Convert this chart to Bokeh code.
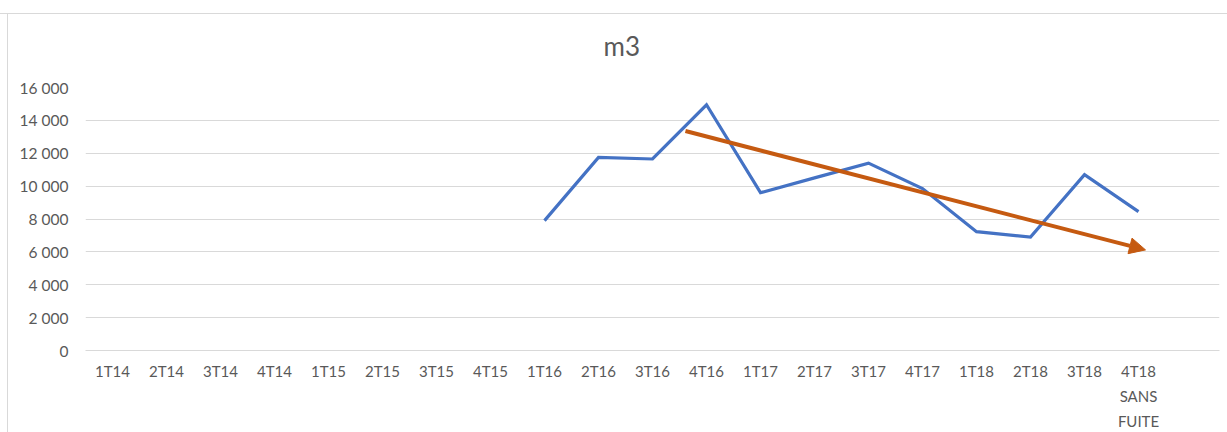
from bokeh.plotting import figure
from bokeh.models import Range1d, FixedTicker, Arrow, NormalHead
from bokeh.embed import file_html
from bokeh.resources import INLINE

# ---- data ----
chart_title = "m3"
categories = ["1T14", "2T14", "3T14", "4T14", "1T15", "2T15", "3T15", "4T15",
              "1T16", "2T16", "3T16", "4T16", "1T17", "2T17", "3T17", "4T17",
              "1T18", "2T18", "3T18", "4T18\nSANS\nFUITE"]
m3_values = [None, None, None, None, None, None, None, None,
             7900, 11750, 11650, 14950, 9600, 10500, 11400, 9850,
             7230, 6900, 10700, 8450]
y_ticks = [0, 2000, 4000, 6000, 8000, 10000, 12000, 14000, 16000]
y_tick_labels = ["0", "2 000", "4 000", "6 000", "8 000", "10 000", "12 000", "14 000", "16 000"]
# trend arrow: (category, offset within category, value)
trend_start = ("4T16", -0.39, 13350)
trend_end = ("4T18\nSANS\nFUITE", 0.13, 6120)

n_slots = len(categories) + 1  # an empty slot after the last category
xs = [i + 0.5 for i in range(len(categories))]
ys = [float("nan") if v is None else v for v in m3_values]

TEXT = "#595959"
GRID = "#d9d9d9"
FONT = "Lato"

p = figure(width=1227, height=432, output_backend="svg", toolbar_location=None,
           x_range=Range1d(0, n_slots), y_range=Range1d(0, 16000),
           min_border_left=85, min_border_right=8, min_border_top=87, min_border_bottom=81,
           title=chart_title)
# chart-area frame lines (top and left) drawn behind a transparent canvas border
p.styles = {
    "background": ("linear-gradient(#d9d9d9, #d9d9d9) 0px 13px / 100% 1px no-repeat, "
                   "linear-gradient(#d9d9d9, #d9d9d9) 7px 13px / 1px 100% no-repeat, white"),
}
p.outline_line_color = None
p.background_fill_color = "white"
p.border_fill_alpha = 0

p.title.text_font = FONT
p.title.text_font_size = "26px"
p.title.text_font_style = "normal"
p.title.text_color = TEXT
p.title.align = "left"
p.title.offset = 518
p.title.standoff = 52

# x axis
p.xaxis.ticker = FixedTicker(ticks=xs)
p.xaxis.major_label_overrides = {x: c for x, c in zip(xs, categories)}
p.xaxis.major_tick_line_color = None
p.xaxis.minor_tick_line_color = None
p.xaxis.axis_line_color = GRID
p.xaxis.major_label_text_font = FONT
p.xaxis.major_label_text_font_size = "15px"
p.xaxis.major_label_text_color = TEXT
p.xaxis.major_label_text_line_height = 1.4
p.xaxis.major_label_standoff = 5
p.xgrid.grid_line_color = None

# y axis
p.yaxis.ticker = FixedTicker(ticks=y_ticks)
p.yaxis.major_label_overrides = {t: l for t, l in zip(y_ticks, y_tick_labels)}
p.yaxis.major_tick_line_color = None
p.yaxis.minor_tick_line_color = None
p.yaxis.axis_line_color = None
p.yaxis.major_label_text_font = FONT
p.yaxis.major_label_text_font_size = "15.5px"
p.yaxis.major_label_text_color = TEXT
p.yaxis.major_label_standoff = 11
p.ygrid.grid_line_color = GRID
p.ygrid.grid_line_width = 1

p.line(xs, ys, line_color="#4472C4", line_width=3.2, line_join="miter")

sx = categories.index(trend_start[0]) + 0.5 + trend_start[1]
ex = categories.index(trend_end[0]) + 0.5 + trend_end[1]
p.add_layout(Arrow(x_start=sx, y_start=trend_start[2], x_end=ex, y_end=trend_end[2],
                   line_color="#C55A11", line_width=4,
                   end=NormalHead(size=16, fill_color="#C55A11", line_color="#C55A11")))

open("out.html", "w").write(file_html(p, INLINE))
